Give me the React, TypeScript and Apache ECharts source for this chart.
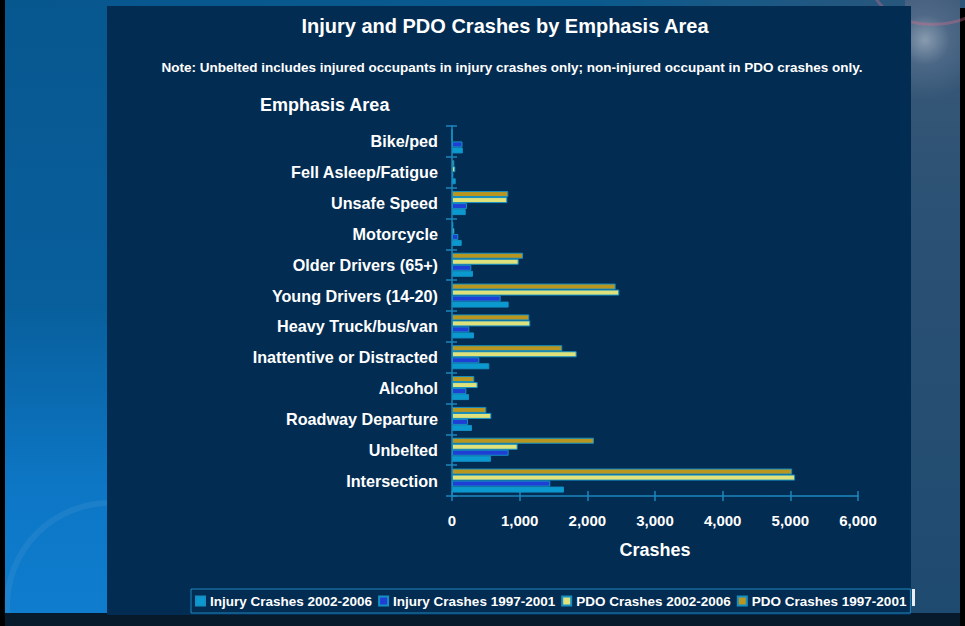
import React, { useEffect, useRef } from "react";
import * as echarts from "echarts";

const categories = [
  "Intersection",
  "Unbelted",
  "Roadway Departure",
  "Alcohol",
  "Inattentive or Distracted",
  "Heavy Truck/bus/van",
  "Young Drivers (14-20)",
  "Older Drivers (65+)",
  "Motorcycle",
  "Unsafe Speed",
  "Fell Asleep/Fatigue",
  "Bike/ped",
];
const injury0206 = [1655, 576, 295, 251, 551, 325, 837, 310, 143, 203, 55, 160];
const injury9701 = [1452, 837, 236, 212, 404, 256, 719, 285, 93, 222, 20, 155];
const pdo0206 = [5070, 970, 581, 379, 1842, 1157, 2472, 985, 35, 817, 49, 0];
const pdo9701 = [5027, 2097, 507, 330, 1630, 1142, 2418, 1049, 20, 832, 34, 0];

const seriesNames = [
  "Injury Crashes 2002-2006",
  "Injury Crashes 1997-2001",
  "PDO Crashes 2002-2006",
  "PDO Crashes 1997-2001",
];
const seriesColors = ["#0a9ad0", "#1f3fd4", "#dfe27b", "#b8961f"];

const xMin = 0;
const xMax = 6000;
const xInterval = 1000;

const FONT = "'Liberation Sans', Arial, sans-serif";
const AXIS = "#1e86bd";

export default function App() {
  const ref = useRef<HTMLDivElement>(null);
  useEffect(() => {
    if (!ref.current) return;
    const chart = echarts.init(ref.current, undefined, { renderer: "svg" });
    const data = [injury0206, injury9701, pdo0206, pdo9701];
    // draw order: top of group first
    const order = [3, 2, 1, 0];
    chart.setOption({
      animation: false,
      backgroundColor: "transparent",
      textStyle: { fontFamily: FONT },
      grid: { left: 452, right: 107, top: 126, bottom: 130, containLabel: false },
      legend: {
        data: seriesNames,
        left: 191,
        top: 589,
        width: 730,
        padding: [5, 4, 5, 4],
        borderColor: AXIS,
        borderWidth: 1,
        itemWidth: 9,
        itemHeight: 9,
        itemGap: 6,
        icon: "rect",
        textStyle: { color: "#ffffff", fontWeight: "bold", fontSize: 13.5, fontFamily: FONT },
      },
      xAxis: [
        {
          type: "value",
          min: xMin,
          max: xMax,
          interval: xInterval,
          position: "bottom",
          splitLine: { show: false },
          axisLine: { show: true, lineStyle: { color: AXIS, width: 1.5 } },
          axisTick: { show: true, length: 5, lineStyle: { color: AXIS, width: 1.5 } },
          axisLabel: {
            color: "#ffffff",
            fontWeight: "bold",
            fontSize: 15,
            fontFamily: FONT,
            margin: 17,
            formatter: (v: number) => v.toLocaleString("en-US"),
          },
        },
        {
          type: "value",
          min: xMin,
          max: xMax,
          interval: xInterval,
          position: "bottom",
          splitLine: { show: false },
          axisLine: { show: false },
          axisTick: { show: true, inside: true, length: 5, lineStyle: { color: AXIS, width: 1.5 } },
          axisLabel: { show: false },
        },
      ],
      yAxis: [
        {
          type: "category",
          data: categories,
          position: "left",
          axisLine: { show: true, lineStyle: { color: AXIS, width: 1.5 } },
          axisTick: { show: true, length: 6, lineStyle: { color: AXIS, width: 1.5 } },
          axisLabel: {
            color: "#ffffff",
            fontWeight: "bold",
            fontSize: 16.2,
            fontFamily: FONT,
            margin: 14,
          },
        },
        {
          type: "category",
          data: categories,
          position: "left",
          axisLine: { show: false },
          axisTick: { show: true, inside: true, length: 5, lineStyle: { color: AXIS, width: 1.5 } },
          axisLabel: { show: false },
        },
      ],
      series: order.map((i) => ({
        name: seriesNames[i],
        type: "bar",
        xAxisIndex: 0,
        yAxisIndex: 0,
        data: data[i],
        barGap: "0%",
        barCategoryGap: "22%",
        itemStyle: { color: seriesColors[i], borderColor: "#1590c4", borderWidth: 1 },
      })),
      graphic: [
        {
          type: "text",
          x: 505,
          y: 26,
          style: {
            text: "Injury and PDO Crashes by Emphasis Area",
            fill: "#ffffff",
            font: `bold 20px ${FONT}`,
            textAlign: "center",
            textVerticalAlign: "middle",
          },
        },
        {
          type: "text",
          x: 512,
          y: 67,
          style: {
            text: "Note: Unbelted includes injured occupants in injury crashes only; non-injured occupant in PDO crashes only.",
            fill: "#ffffff",
            font: `bold 13.5px ${FONT}`,
            textAlign: "center",
            textVerticalAlign: "middle",
          },
        },
        {
          type: "text",
          x: 260,
          y: 105,
          style: {
            text: "Emphasis Area",
            fill: "#ffffff",
            font: `bold 18px ${FONT}`,
            textAlign: "left",
            textVerticalAlign: "middle",
          },
        },
        {
          type: "text",
          x: 655,
          y: 550,
          style: {
            text: "Crashes",
            fill: "#ffffff",
            font: `bold 18px ${FONT}`,
            textAlign: "center",
            textVerticalAlign: "middle",
          },
        },
      ],
    });
    return () => chart.dispose();
  }, []);

  return (
    <div
      style={{
        position: "fixed",
        left: 0,
        top: 0,
        width: 965,
        height: 626,
        overflow: "hidden",
        background: "#000",
      }}
    >
      {/* left desktop area */}
      <div
        style={{
          position: "absolute",
          left: 5,
          top: 0,
          width: 110,
          height: 613,
          background: "linear-gradient(180deg, #07578f 0%, #085f9c 50%, #0d77c6 80%, #0f7ccd 100%)",
        }}
      />
      <div
        style={{
          position: "absolute",
          left: 4,
          top: 500,
          width: 200,
          height: 200,
          borderRadius: "50%",
          border: "6px solid rgba(255,255,255,0.06)",
        }}
      />
      {/* top strip */}
      <div
        style={{
          position: "absolute",
          left: 5,
          top: 0,
          width: 960,
          height: 8,
          background: "linear-gradient(90deg, #07578f 0%, #0a5a8e 60%, #2e5679 100%)",
        }}
      />
      {/* right area */}
      <div
        style={{
          position: "absolute",
          left: 905,
          top: 0,
          width: 55,
          height: 613,
          background:
            "radial-gradient(circle at 20px 40px, rgba(200,210,220,0.55) 0px, rgba(120,140,170,0.3) 25px, rgba(0,0,0,0) 60px), linear-gradient(180deg, #3e5a78 0%, #2c5274 30%, #1f4a70 100%)",
        }}
      />
      <div
        style={{
          position: "absolute",
          left: 870,
          top: -60,
          width: 120,
          height: 80,
          borderRadius: "50%",
          border: "3px solid rgba(220,110,140,0.35)",
        }}
      />
      {/* bottom strip */}
      <div
        style={{
          position: "absolute",
          left: 5,
          top: 613,
          width: 955,
          height: 13,
          background: "#071a2c",
        }}
      />
      {/* panel */}
      <div
        style={{
          position: "absolute",
          left: 107,
          top: 6,
          width: 804,
          height: 609,
          background: "#022c52",
        }}
      />
      <div
        style={{
          position: "absolute",
          left: 912,
          top: 589,
          width: 3,
          height: 17,
          background: "#e8eef4",
        }}
      />
      <div
        ref={ref}
        style={{ position: "absolute", left: 0, top: 0, width: 965, height: 626 }}
      />
    </div>
  );
}
